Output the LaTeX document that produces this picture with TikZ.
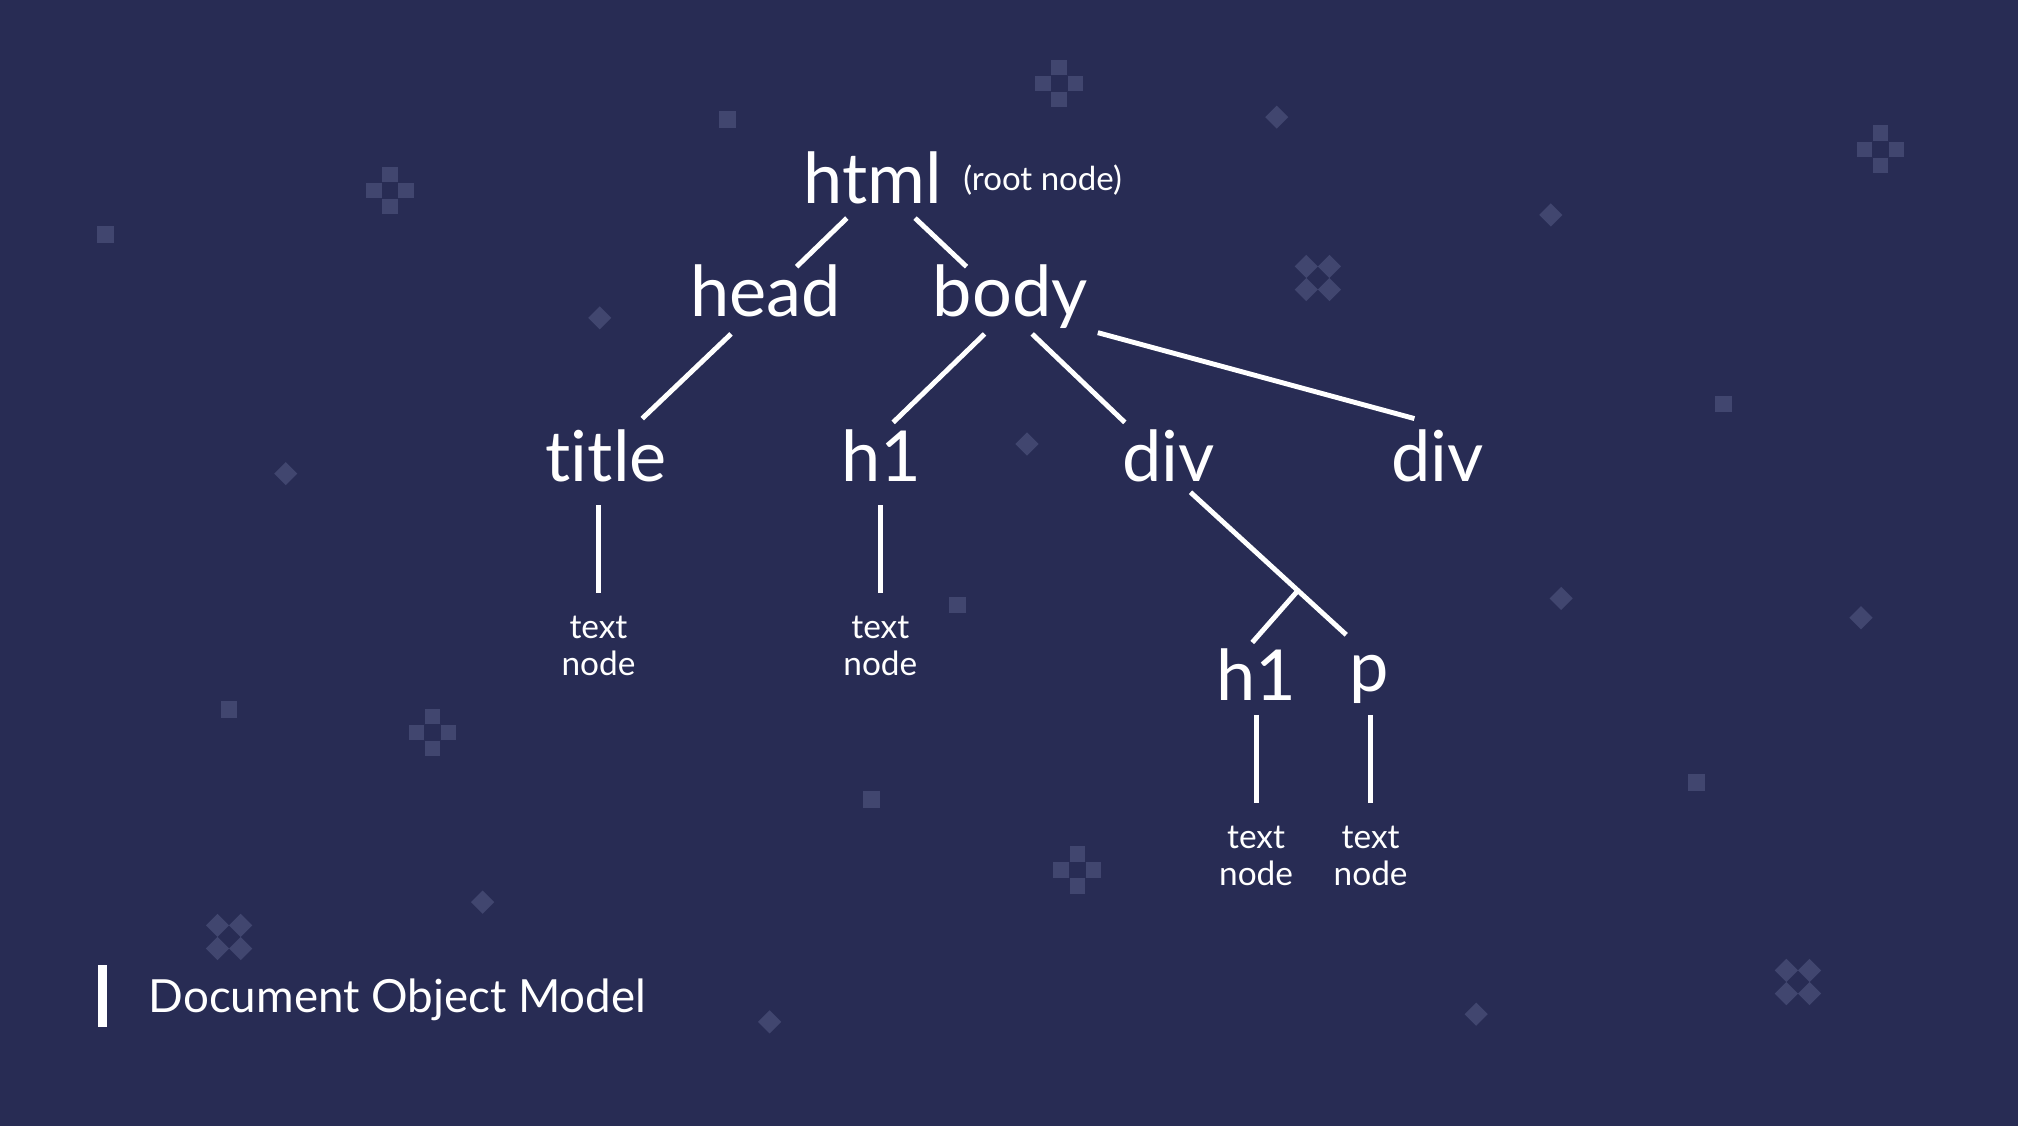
\documentclass[tikz,border=0pt]{standalone}
\usepackage{fontspec}
\setmainfont{Lato}[Ligatures=NoCommon]
\usetikzlibrary{calc}
\definecolor{bgblue}{HTML}{282C54}
\definecolor{decoblue}{HTML}{41466F}

\begin{document}
\begin{tikzpicture}[
            x=0.1287mm, y=-0.1287mm,
            tag/.style={text=white, inner sep=0, anchor=base, font=\fontsize{20}{23}\selectfont, text height=14pt, text depth=4pt},
            leaf/.style={text=white, inner sep=0, anchor=north, align=center, font=\fontsize{9.5}{10.6}\selectfont},
            edge/.style={draw=white, line width=1.4pt},
            deco/.style={fill=decoblue}
        ]
            % background and decorations
            \fill[bgblue] (0,0) rectangle (1568,875);
            \foreach \cx/\cy in {823/65, 303/148, 1461/116, 336/569, 837/676}
                \foreach \dx/\dy in {0/-12.5, -12.5/0, 12.5/0, 0/12.5}
                    \fill[deco] (\cx+\dx-6,\cy+\dy-6) rectangle ++(12,12);
            \foreach \cx/\cy in {1024/216, 178/728, 1397/763}
                \foreach \dx/\dy in {-9/-9, 9/-9, -9/9, 9/9}
                    \fill[deco] (\cx+\dx,\cy+\dy-9) -- ++(9,9) -- ++(-9,9) -- ++(-9,-9) -- cycle;
            \foreach \cx/\cy in {992/91, 1205/167, 466/247, 222/368, 798/345, 1213/465, 1446/480, 375/701, 598/794, 1147/788}
                \fill[deco] (\cx,\cy-9) -- ++(9,9) -- ++(-9,9) -- ++(-9,-9) -- cycle;
            \foreach \cx/\cy in {565/93, 82/182, 1339/314, 744/470, 178/551, 677/621, 1318/608}
                \fill[deco] (\cx-6.5,\cy-6.5) rectangle ++(13,13);

            % tree
            \node[tag] (html) at (678,158) {html};
            \node[text=white, inner sep=0, anchor=base west, font=\fontsize{9.4}{11}\selectfont] (root) at (748,148) {(root node)};
            \node[tag] (head) at (595,246) {head};
            \node[tag] (body) at (785,246) {body};
            \node[tag] (title) at (471,374) {title};
            \node[tag] (h1a) at (685,374) {h1};
            \node[tag] (div) at (908,374) {div};
            \node[tag] (div2) at (1117,374) {div};
            \node[tag] (h1b) at (976,544) {h1};
            \node[tag] (p) at (1064,537) {p};
            \node[leaf] (tn1) at (465,478) {text\\node};
            \node[leaf] (tn2) at (684,478) {text\\node};
            \node[leaf] (tn3) at (976,641) {text\\node};
            \node[leaf] (tn4) at (1065,641) {text\\node};

            \draw[edge] ([shift={(-20,0)}]html.south) -- ([shift={(24,0)}]head.north);
            \draw[edge] ([shift={(33,0)}]html.south) -- ([shift={(-34,0)}]body.north);
            \draw[edge] ([shift={(-27,2)}]head.south) -- ([shift={(28,-10)}]title.north);
            \draw[edge] ([shift={(-20,2)}]body.south) -- ([shift={(9,-7)}]h1a.north);
            \draw[edge] ([shift={(17,2)}]body.south) -- ([shift={(-34,-7)}]div.north);
            \draw[edge] ([shift={(68,1)}]body.south) -- ([shift={(-18,-10)}]div2.north);
            \draw[edge] ([shift={(17,-3)}]div.south) -- coordinate[pos=0.69] (fork) ([shift={(-18,-5)}]p.north);
            \draw[edge] (fork) -- ([shift={(-3,-6)}]h1b.north);
            \draw[edge] ($(title.south -| tn1)+(0,7)$) -- ($(tn1.north)+(0,-17)$);
            \draw[edge] ($(h1a.south -| tn2)+(0,7)$) -- ($(tn2.north)+(0,-17)$);
            \draw[edge] ($(h1b.south -| tn3)+(0,0)$) -- ($(tn3.north)+(0,-17)$);
            \draw[edge] ($(h1b.south -| tn4)+(0,0)$) -- ($(tn4.north)+(0,-17)$);

            % caption
            \fill[white] (76,750) rectangle (83,798);
            \node[text=white, inner sep=0, anchor=base west, font=\fontsize{13}{16}\selectfont] (caption) at (115,787) {Document Object Model};
        \end{tikzpicture}
\end{document}
